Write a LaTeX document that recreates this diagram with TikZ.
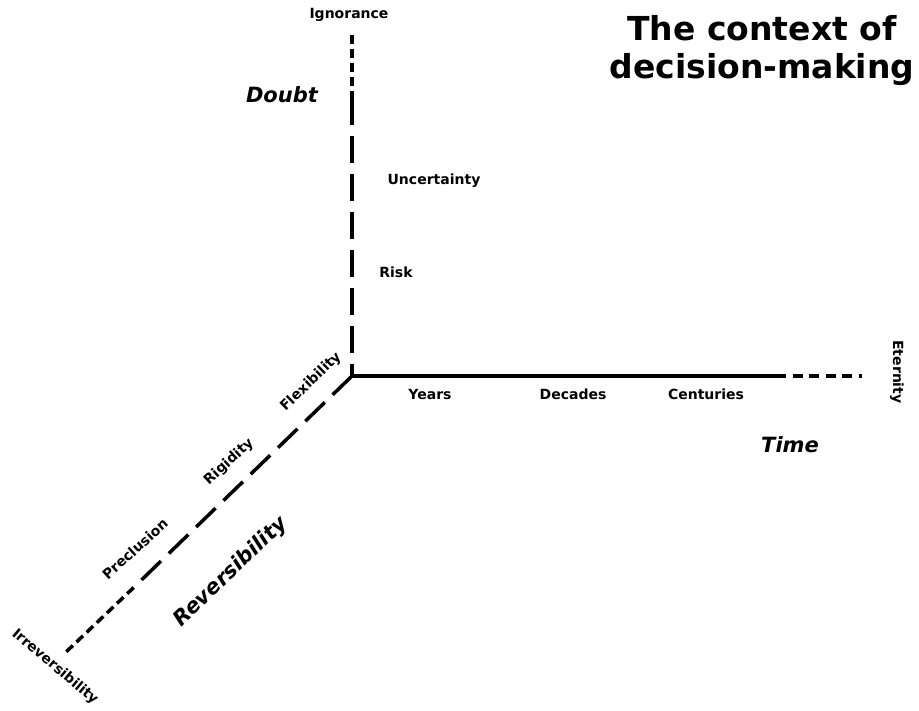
\documentclass[tikz,border=0pt]{standalone}
\usepackage{fontspec}
\setmainfont{DejaVu Sans}
\usetikzlibrary{positioning}

\begin{document}
\begin{tikzpicture}[x=1pt, y=-1pt,
    lbl/.style={font=\bfseries\fontsize{14}{16}\selectfont},
    dim/.style={font=\bfseries\itshape\fontsize{21}{25}\selectfont},
    axis/.style={line width=3.5pt},
    longdash/.style={axis, dash pattern=on 27pt off 11pt},
    shortdash/.style={axis, dash pattern=on 9pt off 5pt}]
    \useasboundingbox (0,0) rectangle (919,711);
    % axes
    \coordinate (O) at (352,376);
    \coordinate (ign) at (352,35);
    \coordinate (doubtjoin) at (352,98);
    \coordinate (cent) at (776,376);
    \coordinate (eter) at (862,376);
    \coordinate (revjoin) at (133.7,587.5);
    \coordinate (irr) at (65,653);
    \draw[shortdash] (ign) -- (doubtjoin);
    \draw[longdash] (doubtjoin) -- (O);
    \draw[axis] (O) -- (cent);
    \draw[axis, dash pattern=on 10pt off 6.5pt] (cent) -- (eter);
    \draw[longdash] (O) -- (revjoin);
    \draw[shortdash] (revjoin) -- (irr);
    % doubt
    \node[lbl] (ignorance) at (349,15) {Ignorance};
    \node[lbl] (uncert) at (434,181) {Uncertainty};
    \node[lbl] (risk) at (396,272) {Risk};
    \node[dim] (doubt) at (282,95) {Doubt};
    % time
    \node[lbl] (years) at (430,394) {Years};
    \node[lbl] (decades) at (573,394) {Decades};
    \node[lbl] (centuries) at (706,394) {Centuries};
    \node[lbl, rotate=-90] (eternity) at (897,372) {Eternity};
    \node[dim] (time) at (790,445) {Time};
    % reversibility
    \node[lbl, rotate=44] (flex) at (311,382) {Flexibility};
    \node[lbl, rotate=42] (rigid) at (229,462) {Rigidity};
    \node[lbl, rotate=42] (preclusion) at (135,549) {Preclusion};
    \node[lbl, rotate=-40] (irrev) at (55,667) {Irreversibility};
    \node[dim, rotate=44] (rev) at (231,572) {Reversibility};
    % title
    \node[font=\bfseries\fontsize{33}{38}\selectfont, align=center] (title) at (762,51) {The context of\\decision-making};
\end{tikzpicture}
\end{document}
